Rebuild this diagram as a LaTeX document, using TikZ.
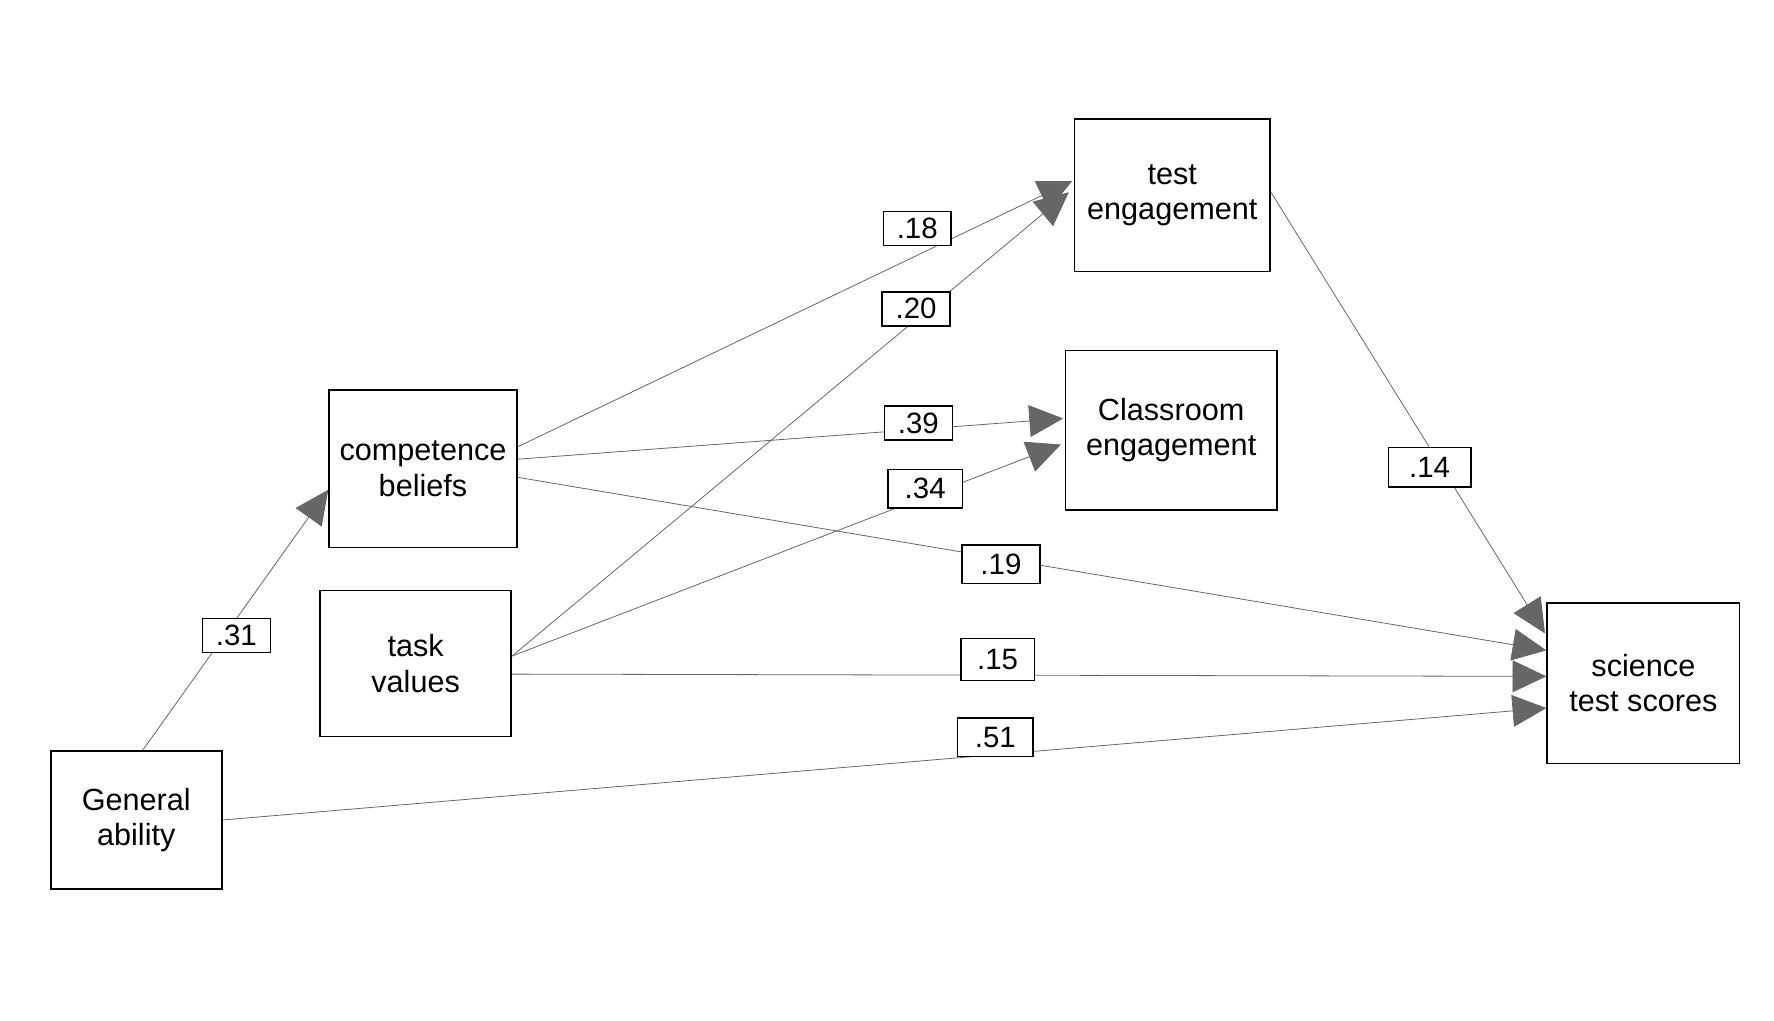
\documentclass[tikz,border=0pt]{standalone}
\usepackage{fontspec}
\setmainfont{Liberation Sans}
\usetikzlibrary{arrows.meta}
\begin{document}
\begin{tikzpicture}[
      x=0.01cm, y=-0.01cm,
      box/.style={draw, thin, align=center, font=\fontsize{7.7}{8.9}\selectfont, inner sep=0pt},
      coef/.style={draw, thin, fill=white, font=\fontsize{7.4}{8}\selectfont, inner sep=0pt, minimum width=0.6cm, minimum height=0.3cm},
      path/.style={draw=black!60, very thin, -{Triangle[length=8.5pt,width=8pt]}},
  ]
    \useasboundingbox (0,0) rectangle (1568.5,902.7);
    % variables
    \node[box, minimum width=1.73cm, minimum height=1.35cm] (testeng) at (1036.5,172.5) {test\\engagement};
    \node[box, minimum width=1.87cm, minimum height=1.41cm] (classeng) at (1035.5,380.5) {Classroom\\engagement};
    \node[box, minimum width=1.66cm, minimum height=1.39cm] (compbel) at (374,414.5) {competence\\beliefs};
    \node[box, minimum width=1.69cm, minimum height=1.29cm] (taskval) at (367.5,586.5) {task\\values};
    \node[box, minimum width=1.51cm, minimum height=1.22cm] (genab) at (120.5,725) {General\\ability};
    \node[box, minimum width=1.70cm, minimum height=1.42cm] (science) at (1453,604) {science\\test scores};
    % paths
    \draw[path] (genab.north west) ++(82,0) coordinate (ga1) (ga1) -- (compbel.west |- 0,433);
    \draw[path] (compbel.east |- 0,395) -- (948,160);
    \draw[path] (taskval.east |- 0,580) -- (945,170);
    \draw[path] (compbel.east |- 0,406) -- (940,370);
    \draw[path] (taskval.east |- 0,580) -- (938,393);
    \draw[path] (compbel.east |- 0,422) -- (science.west |- 0,575);
    \draw[path] (taskval.east |- 0,596) -- (science.west |- 0,598);
    \draw[path] (genab.east) -- (science.west |- 0,626);
    \draw[path] (testeng.east |- 0,170) -- (1366,560);
    % coefficients
    \node[coef] (c31) at (209,562) {.31};
    \node[coef] (c18) at (811,202) {.18};
    \node[coef] (c20) at (810,273) {.20};
    \node[coef] (c39) at (812,374) {.39};
    \node[coef, minimum width=0.66cm, minimum height=0.34cm] (c34) at (818,432) {.34};
    \node[coef, minimum width=0.69cm, minimum height=0.34cm] (c19) at (885,499) {.19};
    \node[coef, minimum width=0.65cm, minimum height=0.37cm] (c15) at (882,583) {.15};
    \node[coef, minimum width=0.67cm, minimum height=0.34cm] (c51) at (880,652) {.51};
    \node[coef, minimum width=0.73cm, minimum height=0.35cm] (c14) at (1264,413) {.14};
\end{tikzpicture}
\end{document}
